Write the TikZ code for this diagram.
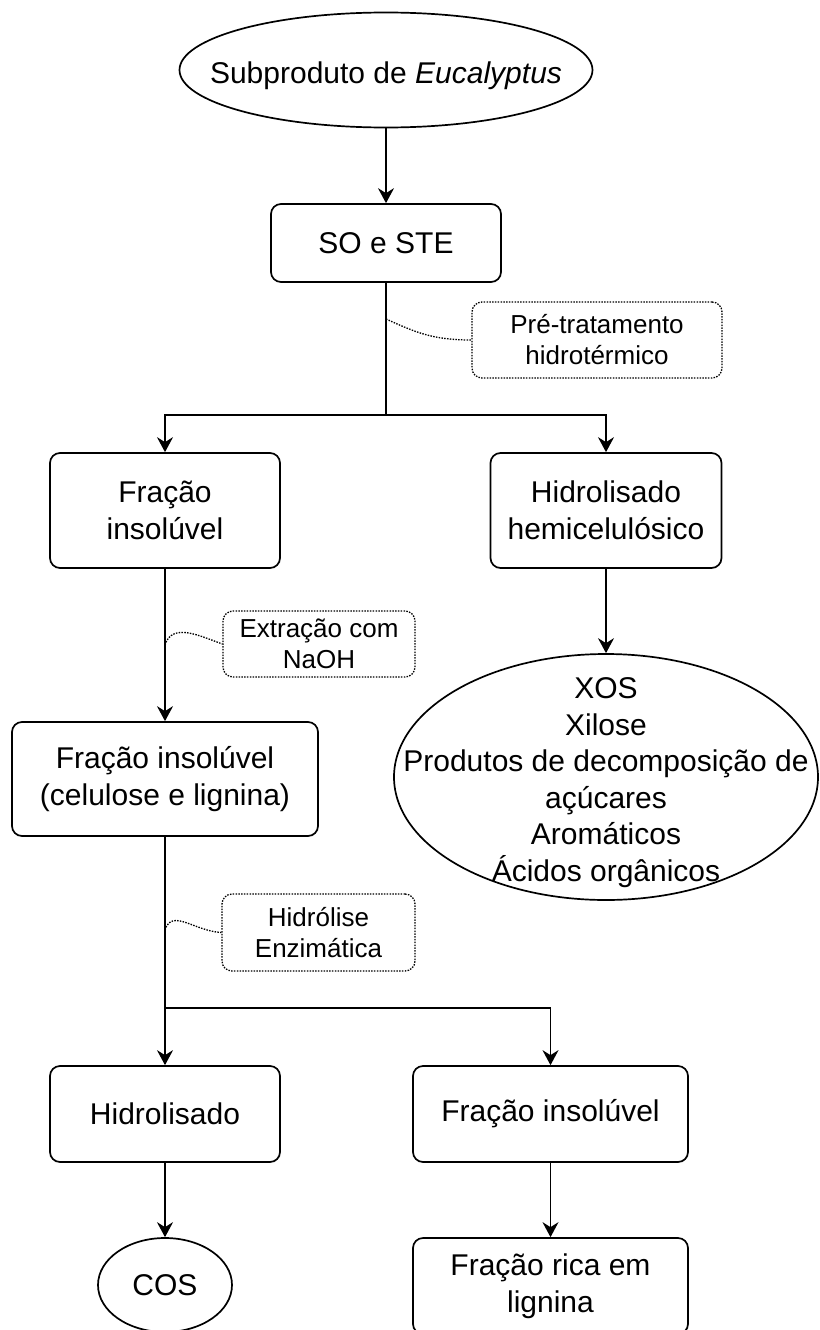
\documentclass[tikz,border=0pt]{standalone}
\usepackage{fontspec}
\setmainfont{Liberation Sans}
\usepackage{tikz}
\usetikzlibrary{shapes.geometric, positioning, calc}
\usetikzlibrary{arrows.meta}
\tikzset{>={Stealth[length=15pt,width=16pt,inset=5pt]}}
\tikzset{
	stepbox/.style={draw, rectangle, rounded corners=10pt, line width=1.7pt, align=center, inner sep=0pt, font=\fontsize{30}{36.5}\selectfont},
	oval/.style={draw, ellipse, line width=1.7pt, inner sep=0pt, font=\fontsize{30}{36.5}\selectfont},
	notebox/.style={draw, rectangle, rounded corners=10pt, line width=1.3pt, dash pattern=on 1.5pt off 1.3pt, align=center, inner sep=0pt, font=\fontsize{26}{31}\selectfont},
	flow/.style={line width=1.7pt},
	notelink/.style={line width=1.3pt, dash pattern=on 1.5pt off 1.3pt}
}
\newcommand{\ovaltext}[1]{\makebox[0pt]{\raisebox{-0.4em}[0pt][0pt]{\begin{tabular}{@{}c@{}}#1\end{tabular}}}}

\begin{document}
\begin{tikzpicture}[x=1pt, y=-1pt]
				\clip (0,0) rectangle (819,1330);
				\node[oval, minimum width=413pt, minimum height=115pt] (sub) at (386,70) {\ovaltext{Subproduto de \textit{Eucalyptus}}};
				\node[stepbox, minimum width=230pt, minimum height=78pt] (so) at (386,243) {SO e STE};
				\node[notebox, minimum width=250pt, minimum height=76pt] (pre) at (597,340) {Pré-tratamento\\hidrotérmico};
				\coordinate (preat) at (386,319);
				\coordinate (split1) at (386,415);
				\node[stepbox, minimum width=230pt, minimum height=115pt] (frac1) at (165,510.5) {Fração\\insolúvel};
				\node[stepbox, minimum width=231pt, minimum height=115pt] (hemi) at (606,510.5) {Hidrolisado\\hemicelulósico};
				\node[oval, minimum width=424pt, minimum height=246pt] (xos) at (606,777) {\ovaltext{XOS\\Xilose\\Produtos de decomposição de\\açúcares\\Aromáticos\\Ácidos orgânicos}};
				\node[notebox, minimum width=192pt, minimum height=66pt] (naoh) at (319,644) {Extração com\\NaOH};
				\coordinate (naohat) at (165,645);
				\node[stepbox, minimum width=306pt, minimum height=114pt] (frac2) at (165,779) {Fração insolúvel\\(celulose e lignina)};
				\node[notebox, minimum width=193pt, minimum height=77pt] (enz) at (318.5,932.5) {Hidrólise\\Enzimática};
				\coordinate (enzat) at (165,930);
				\coordinate (split2) at (165,1008);
				\node[stepbox, minimum width=230pt, minimum height=96pt] (hidro) at (165,1114) {Hidrolisado};
				\node[stepbox, minimum width=275pt, minimum height=96pt] (frac3) at (550.5,1114) {Fração insolúvel};
				\node[oval, minimum width=134pt, minimum height=94pt] (cos) at (165,1285) {COS};
				\node[stepbox, minimum width=275pt, minimum height=96pt] (rica) at (550.5,1286) {Fração rica em\\lignina};
				\draw[flow, ->] (sub) -- (so);
				\draw[flow] (so) -- (split1);
				\draw[flow, ->] (split1) -| (frac1);
				\draw[flow, ->] (split1) -| (hemi);
				\draw[flow, ->] (hemi) -- (xos);
				\draw[flow, ->] (frac1) -- (frac2);
				\draw[flow] (frac2) -- (split2);
				\draw[flow, ->] (split2) -- (hidro);
				\draw[flow, ->] (split2) -| (frac3);
				\draw[flow, ->] (hidro) -- (cos);
				\draw[flow, ->] (frac3) -- (rica);
				\draw[notelink] (preat) .. controls (415,332) and (432,340) .. (pre.west);
				\draw[notelink] (naohat) .. controls (172,622) and (200,636) .. (naoh.west);
				\draw[notelink] (enzat) .. controls (172,908) and (194,931) .. (enz.west);
			\end{tikzpicture}
\end{document}
